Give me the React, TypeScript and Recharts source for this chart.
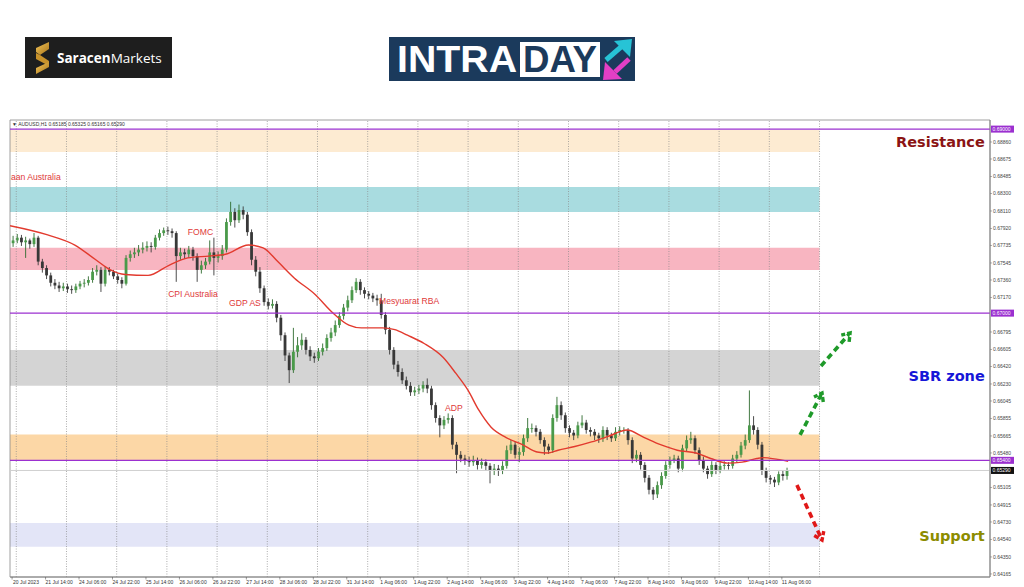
import React from 'react';
import { ComposedChart, Bar, Line, XAxis, YAxis, ReferenceArea, ReferenceLine, ReferenceDot } from 'recharts';

// ---------- DATA (2-hour candles, x = H1 bar index from 20 Jul 22:00) ----------
const opens = [
  0.6776,0.6779,0.6782,0.6777,0.6779,0.6775,0.6782,0.6756,0.6749,0.6741,
  0.6733,0.6730,0.6727,0.6729,0.6726,0.6725,0.6729,0.6732,0.6733,0.6736,
  0.6745,0.6747,0.6732,0.6747,0.6745,0.6740,0.6736,0.6732,0.6760,0.6764,
  0.6766,0.6769,0.6771,0.6773,0.6772,0.6782,0.6787,0.6790,0.6789,0.6787,
  0.6762,0.6766,0.6764,0.6769,0.6762,0.6747,0.6752,0.6756,0.6766,0.6760,
  0.6762,0.6769,0.6799,0.6810,0.6801,0.6812,0.6807,0.6788,0.6758,0.6745,
  0.6727,0.6712,0.6708,0.6710,0.6695,0.6676,0.6654,0.6638,0.6658,0.6665,
  0.6671,0.6660,0.6653,0.6651,0.6658,0.6662,0.6673,0.6679,0.6687,0.6697,
  0.6706,0.6714,0.6725,0.6734,0.6725,0.6721,0.6719,0.6716,0.6714,0.6698,
  0.6682,0.6660,0.6644,0.6636,0.6627,0.6621,0.6614,0.6616,0.6618,0.6622,
  0.6618,0.6600,0.6586,0.6578,0.6584,0.6586,0.6557,0.6546,0.6542,0.6540,
  0.6538,0.6540,0.6535,0.6538,0.6534,0.6529,0.6531,0.6529,0.6534,0.6551,
  0.6557,0.6546,0.6549,0.6564,0.6575,0.6575,0.6571,0.6562,0.6555,0.6551,
  0.6586,0.6600,0.6589,0.6575,0.6570,0.6567,0.6578,0.6581,0.6573,0.6571,
  0.6567,0.6564,0.6573,0.6567,0.6564,0.6571,0.6573,0.6573,0.6562,0.6542,
  0.6546,0.6535,0.6521,0.6508,0.6503,0.6513,0.6523,0.6535,0.6540,0.6542,
  0.6531,0.6553,0.6562,0.6564,0.6551,0.6540,0.6531,0.6525,0.6535,0.6529,
  0.6534,0.6535,0.6534,0.6542,0.6546,0.6556,0.6562,0.6578,0.6573,0.6557,
  0.6529,0.6521,0.6519,0.6516,0.6525,0.6523,
];
const closes = [
  0.6779,0.6782,0.6777,0.6779,0.6775,0.6782,0.6756,0.6749,0.6741,0.6733,
  0.6730,0.6727,0.6729,0.6726,0.6725,0.6729,0.6732,0.6733,0.6736,0.6745,
  0.6747,0.6732,0.6747,0.6745,0.6740,0.6736,0.6732,0.6760,0.6764,0.6766,
  0.6769,0.6771,0.6773,0.6772,0.6782,0.6787,0.6790,0.6789,0.6787,0.6762,
  0.6766,0.6764,0.6769,0.6762,0.6747,0.6752,0.6756,0.6766,0.6760,0.6762,
  0.6769,0.6799,0.6810,0.6801,0.6812,0.6807,0.6788,0.6758,0.6745,0.6727,
  0.6712,0.6708,0.6710,0.6695,0.6676,0.6654,0.6638,0.6658,0.6665,0.6671,
  0.6660,0.6653,0.6651,0.6658,0.6662,0.6673,0.6679,0.6687,0.6697,0.6706,
  0.6714,0.6725,0.6734,0.6725,0.6721,0.6719,0.6716,0.6714,0.6698,0.6682,
  0.6660,0.6644,0.6636,0.6627,0.6621,0.6614,0.6616,0.6618,0.6622,0.6618,
  0.6600,0.6586,0.6578,0.6584,0.6586,0.6557,0.6546,0.6542,0.6540,0.6538,
  0.6540,0.6535,0.6538,0.6534,0.6529,0.6531,0.6529,0.6534,0.6551,0.6557,
  0.6546,0.6549,0.6564,0.6575,0.6575,0.6571,0.6562,0.6555,0.6551,0.6586,
  0.6600,0.6589,0.6575,0.6570,0.6567,0.6578,0.6581,0.6573,0.6571,0.6567,
  0.6564,0.6573,0.6567,0.6564,0.6571,0.6573,0.6573,0.6562,0.6542,0.6546,
  0.6535,0.6521,0.6508,0.6503,0.6513,0.6523,0.6535,0.6540,0.6542,0.6531,
  0.6553,0.6562,0.6564,0.6551,0.6540,0.6531,0.6525,0.6535,0.6529,0.6534,
  0.6535,0.6534,0.6542,0.6546,0.6556,0.6562,0.6578,0.6573,0.6557,0.6529,
  0.6521,0.6519,0.6516,0.6525,0.6523,0.6529,
];
const highs = [
  0.6784,0.6786,0.6785,0.6783,0.6781,0.6787,0.6784,0.6759,0.6752,0.6744,
  0.6737,0.6734,0.6733,0.6732,0.6730,0.6732,0.6735,0.6737,0.6740,0.6749,
  0.6752,0.6750,0.6751,0.6750,0.6747,0.6743,0.6739,0.6763,0.6768,0.6771,
  0.6774,0.6777,0.6778,0.6777,0.6785,0.6791,0.6793,0.6794,0.6792,0.6789,
  0.6771,0.6770,0.6773,0.6772,0.6765,0.6757,0.6760,0.6779,0.6782,0.6767,
  0.6774,0.6803,0.6821,0.6814,0.6818,0.6816,0.6810,0.6791,0.6762,0.6750,
  0.6730,0.6716,0.6715,0.6713,0.6698,0.6679,0.6657,0.6684,0.6674,0.6678,
  0.6674,0.6664,0.6657,0.6662,0.6667,0.6677,0.6684,0.6692,0.6701,0.6710,
  0.6719,0.6729,0.6738,0.6737,0.6728,0.6724,0.6722,0.6720,0.6721,0.6701,
  0.6685,0.6663,0.6648,0.6640,0.6631,0.6625,0.6620,0.6622,0.6626,0.6629,
  0.6621,0.6603,0.6589,0.6588,0.6591,0.6589,0.6560,0.6550,0.6546,0.6544,
  0.6545,0.6543,0.6542,0.6541,0.6537,0.6536,0.6535,0.6539,0.6556,0.6562,
  0.6560,0.6554,0.6568,0.6586,0.6580,0.6578,0.6574,0.6565,0.6558,0.6590,
  0.6609,0.6604,0.6592,0.6578,0.6573,0.6582,0.6589,0.6584,0.6576,0.6574,
  0.6570,0.6577,0.6576,0.6570,0.6576,0.6577,0.6576,0.6575,0.6565,0.6551,
  0.6549,0.6538,0.6524,0.6511,0.6517,0.6527,0.6539,0.6544,0.6546,0.6545,
  0.6557,0.6567,0.6571,0.6567,0.6554,0.6544,0.6534,0.6539,0.6538,0.6538,
  0.6539,0.6538,0.6546,0.6550,0.6560,0.6568,0.6616,0.6588,0.6576,0.6560,
  0.6532,0.6524,0.6522,0.6528,0.6529,0.6532,
];
const lows = [
  0.6772,0.6776,0.6773,0.6760,0.6770,0.6772,0.6752,0.6744,0.6737,0.6729,
  0.6726,0.6723,0.6724,0.6722,0.6721,0.6722,0.6726,0.6728,0.6730,0.6733,
  0.6741,0.6723,0.6729,0.6741,0.6737,0.6732,0.6727,0.6730,0.6756,0.6760,
  0.6762,0.6765,0.6767,0.6766,0.6769,0.6779,0.6784,0.6785,0.6782,0.6734,
  0.6758,0.6759,0.6760,0.6757,0.6734,0.6743,0.6748,0.6753,0.6741,0.6755,
  0.6758,0.6766,0.6795,0.6793,0.6798,0.6802,0.6784,0.6752,0.6740,0.6722,
  0.6708,0.6704,0.6705,0.6690,0.6670,0.6648,0.6624,0.6635,0.6652,0.6660,
  0.6655,0.6648,0.6646,0.6648,0.6654,0.6659,0.6669,0.6675,0.6684,0.6693,
  0.6702,0.6711,0.6722,0.6720,0.6716,0.6715,0.6712,0.6708,0.6694,0.6677,
  0.6655,0.6639,0.6631,0.6623,0.6617,0.6610,0.6610,0.6612,0.6614,0.6613,
  0.6595,0.6581,0.6565,0.6574,0.6580,0.6552,0.6526,0.6538,0.6535,0.6533,
  0.6534,0.6530,0.6531,0.6529,0.6515,0.6524,0.6523,0.6525,0.6531,0.6547,
  0.6542,0.6538,0.6545,0.6560,0.6570,0.6566,0.6558,0.6546,0.6547,0.6548,
  0.6582,0.6584,0.6570,0.6565,0.6562,0.6564,0.6575,0.6569,0.6566,0.6562,
  0.6559,0.6560,0.6562,0.6560,0.6561,0.6567,0.6569,0.6557,0.6537,0.6538,
  0.6530,0.6516,0.6503,0.6497,0.6499,0.6509,0.6520,0.6531,0.6537,0.6527,
  0.6528,0.6549,0.6558,0.6547,0.6535,0.6527,0.6520,0.6522,0.6525,0.6526,
  0.6530,0.6530,0.6531,0.6538,0.6543,0.6552,0.6559,0.6568,0.6552,0.6524,
  0.6516,0.6514,0.6511,0.6513,0.6518,0.6519,
];

// moving average (red line)
const maHours = [-1,17,30,40,47,54,65,75,84,94,102,113,120,127,135,145,153,161,167,177,183,189,197,206,212,218,223,229,236,244,251,256,261,269,277,285,294,302,310,318,327,334,342,349,356,359,366,371];
const maValues = [0.6795,0.6785,0.6774,0.6758,0.6747,0.6742,0.6741,0.6752,0.6760,0.6762,0.6764,0.6774,0.6771,0.6756,0.6738,0.6720,0.6701,0.6687,0.6684,0.6684,0.6682,0.6676,0.6667,0.6652,0.6635,0.6616,0.6595,0.6576,0.6565,0.6557,0.6549,0.6548,0.6551,0.6555,0.6560,0.6566,0.6573,0.6565,0.6557,0.6551,0.6548,0.6542,0.6537,0.6538,0.6542,0.6543,0.6541,0.6539];

// axes
const xTickHours = [0,16,32,48,64,80,96,112,128,144,160,176,192,208,224,240,256,272,288,304,320,336,352,368];
const xTickLabels = ['20 Jul 2023','21 Jul 14:00','24 Jul 06:00','24 Jul 22:00','25 Jul 14:00','26 Jul 06:00','26 Jul 22:00','27 Jul 14:00','28 Jul 06:00','28 Jul 22:00','31 Jul 14:00','1 Aug 06:00','1 Aug 22:00','2 Aug 14:00','3 Aug 06:00','3 Aug 22:00','4 Aug 14:00','7 Aug 06:00','7 Aug 22:00','8 Aug 14:00','9 Aug 06:00','9 Aug 22:00','10 Aug 14:00','11 Aug 06:00'];
const dayStartHours = [2,26,50,74,98,122,146,170,194,218,242,266,290,314,338,362,386];
const yTicks = [0.68860,0.68675,0.68485,0.68300,0.68110,0.67920,0.67735,0.67545,0.67360,0.67170,0.66795,0.66605,0.66420,0.66230,0.66045,0.65855,0.65665,0.65480,0.65105,0.64915,0.64730,0.64540,0.64350,0.64165];
const xDomain = [-1, 467.5];
const yDomain = [0.64132, 0.69099];

// zones & levels
const zoneLow = [0.6875, 0.6810, 0.6747, 0.6621, 0.6540, 0.6446];
const zoneHigh = [0.6899, 0.6837, 0.6771, 0.6660, 0.6568, 0.6472];
const zoneEndHour = 386;
const levelLines = [0.69, 0.67, 0.654];
const currentPrice = 0.6529;

// annotations
const headerText = '\u25BC AUDUSD,H1  0.65185 0.65325 0.65165 0.65290';
const eventLabels = ['aan Australia', 'FOMC', 'CPI Australia', 'GDP AS', 'Mesyuarat RBA', 'ADP'];
const eventHours = [-0.5, 84, 74.6, 103.7, 175.4, 207];
const eventPrices = [0.6845, 0.6785, 0.6717, 0.6708, 0.6710, 0.6594];
const zoneTitles = ['Resistance', 'SBR zone', 'Support'];
const zoneTitleHour = 465;
const zoneTitlePrices = [0.6881, 0.6626, 0.6452];
const arrowStart = [[376.7, 0.65676], [386.7, 0.66425], [375.2, 0.65132]];
const arrowEnd = [[387.2, 0.66132], [400.6, 0.66784], [387.2, 0.64534]];

// ---------- STYLES ----------
const zoneColors = ['#fdebd2', '#a9dce0', '#f8b5c1', '#d4d4d4', '#fcd7a6', '#e3e5f7'];
const titleColors = ['#8b1414', '#1616d8', '#8c8c00'];
const arrowColors = ['#1f9a2a', '#1f9a2a', '#e01818'];
const FONT = '"Liberation Sans", Arial, sans-serif';

const bars = closes.map((c, k) => ({
  hour: 2 * k + 0.5,
  open: opens[k],
  high: highs[k],
  low: lows[k],
  close: c,
  range: [lows[k], highs[k]],
}));
const maData = maHours.map((h, i) => ({ hour: h, ma: maValues[i] }));

const Candle = (props: any) => {
  const { x, y, width, height, payload } = props;
  if (!payload || height === undefined) return null;
  const { open, close, high, low } = payload;
  const top = Math.min(y, y + height);
  const h = Math.abs(height);
  const k = h / (high - low);
  const cx = x + width / 2;
  const bTop = top + (high - Math.max(open, close)) * k;
  const bBot = top + (high - Math.min(open, close)) * k;
  const up = close >= open;
  return (
    <g>
      <line x1={cx} x2={cx} y1={top} y2={top + h} stroke={up ? '#2e6b2e' : '#3a3a3a'} strokeWidth={0.9} />
      <rect x={cx - 1.4} y={bTop} width={2.8} height={Math.max(bBot - bTop, 0.9)} fill={up ? '#4a9a4a' : '#383838'} />
    </g>
  );
};

const XTick = (props: any) => {
  const { x, y, payload } = props;
  const idx = xTickHours.indexOf(payload.value);
  return (
    <g>
      <line x1={x} x2={x} y1={577} y2={579.5} stroke="#555" strokeWidth={0.6} />
      <text x={x + (idx === 0 ? 1 : 0)} y={584} fontSize={5} fill="#333" textAnchor="start" fontFamily={FONT}>
        {idx >= 0 ? xTickLabels[idx] : ''}
      </text>
    </g>
  );
};

const levelShape = (line: string, bg: string, label: string, w: number) => (p: any) => {
  const right = Math.max(p.x1, p.x2);
  return (
    <g>
      <line x1={p.x1} y1={p.y1} x2={p.x2} y2={p.y2} stroke={line} strokeWidth={w} />
      <rect x={right + 1} y={p.y1 - 3.5} width={23} height={7} fill={bg} />
      <text x={right + 2.5} y={p.y1 + 1.9} fontSize={5} fill="#fff" fontFamily={FONT}>{label}</text>
    </g>
  );
};

const arrowShape = (color: string) => (p: any) => {
  const { x1, y1, x2, y2 } = p;
  const ang = Math.atan2(y2 - y1, x2 - x1);
  const L = 9;
  const s = 0.62;
  const ax = x2 - L * Math.cos(ang - s);
  const ay = y2 - L * Math.sin(ang - s);
  const bx = x2 - L * Math.cos(ang + s);
  const by = y2 - L * Math.sin(ang + s);
  return (
    <g>
      <line x1={x1} y1={y1} x2={x2 - 2 * Math.cos(ang)} y2={y2 - 2 * Math.sin(ang)} stroke={color} strokeWidth={3.6} strokeDasharray="6 4" />
      <polyline points={`${ax},${ay} ${x2},${y2} ${bx},${by}`} fill="none" stroke={color} strokeWidth={3.4} strokeDasharray="5 2" />
    </g>
  );
};

const textShape = (label: string, color: string, size: number, anchor: string, weight: number | string, family: string) => (p: any) => (
  <text x={p.cx} y={p.cy} fill={color} fontSize={size} textAnchor={anchor as any} fontWeight={weight} fontFamily={family}>
    {label}
  </text>
);

const SaracenLogo = () => (
  <svg style={{ position: 'absolute', left: 25, top: 37 }} width={147} height={41}>
    <defs>
      <linearGradient id="goldg" x1="0" y1="0" x2="1" y2="1">
        <stop offset="0" stopColor="#f4c659" />
        <stop offset="1" stopColor="#a8741a" />
      </linearGradient>
    </defs>
    <rect width={147} height={41} fill="#1e1e1e" />
    <polygon points="24,5 24,12 15,18 11,15 11,11" fill="url(#goldg)" />
    <polygon points="11,16 15,18 24,24 24,29 11,22" fill="#c8922b" />
    <polygon points="24,25 24,30 11,37 11,31" fill="url(#goldg)" />
    <text x={32} y={26} fontSize={13.5} fill="#fff" fontFamily='"Open Sans", sans-serif'>
      <tspan fontWeight={700}>Saracen</tspan>
      <tspan fontWeight={400}>Markets</tspan>
    </text>
  </svg>
);

const IntradayLogo = () => (
  <svg style={{ position: 'absolute', left: 389, top: 37 }} width={246} height={44}>
    <rect width={246} height={44} fill="#1b3a5c" />
    <text x={8} y={34.5} fontSize={37} fontWeight={700} fill="#fff" fontFamily={FONT} textLength={120} lengthAdjust="spacingAndGlyphs">INTRA</text>
    <rect x={131} y={5} width={80} height={35} fill="#fff" />
    <text x={134} y={34.5} fontSize={37} fontWeight={700} fill="#1b3a5c" fontFamily={FONT} textLength={74} lengthAdjust="spacingAndGlyphs">DAY</text>
    <line x1={217} y1={23} x2={232} y2={10} stroke="#27c3d6" strokeWidth={5} />
    <polygon points="225,4 243,2 241,20" fill="#27c3d6" />
    <line x1={240} y1={22} x2={226} y2={35} stroke="#e23fc6" strokeWidth={5} />
    <polygon points="233,42 214,43 216,25" fill="#e23fc6" />
  </svg>
);

export default function App() {
  return (
    <div style={{ position: 'absolute', left: 0, top: 0, width: 1024, height: 587, background: '#fff', fontFamily: FONT, overflow: 'hidden' }}>
      <SaracenLogo />
      <IntradayLogo />
      <div style={{ position: 'absolute', left: 0, top: 0 }}>
        <ComposedChart width={1024} height={587} data={bars} margin={{ top: 120, right: 0, left: 10, bottom: 0 }}>
          <XAxis
            dataKey="hour"
            type="number"
            domain={xDomain}
            allowDataOverflow
            ticks={xTickHours}
            interval={0}
            tick={<XTick />}
            tickLine={false}
            axisLine={{ stroke: '#888' }}
            height={10}
            tickSize={0}
          />
          <YAxis
            orientation="right"
            type="number"
            domain={yDomain}
            allowDataOverflow
            ticks={yTicks}
            interval={0}
            width={34}
            tickSize={2}
            tickMargin={1}
            tickLine={{ stroke: '#777', strokeWidth: 0.6 }}
            axisLine={{ stroke: '#888' }}
            tick={{ fontSize: 5, fill: '#444', fontFamily: FONT }}
            tickFormatter={(v: number) => v.toFixed(5)}
          />
          {zoneLow.map((lo, i) => (
            <ReferenceArea key={'z' + i} x1={xDomain[0]} x2={zoneEndHour} y1={lo} y2={zoneHigh[i]} fill={zoneColors[i]} fillOpacity={1} stroke="none" />
          ))}
          {dayStartHours.map((h) => (
            <ReferenceLine key={'g' + h} x={h} stroke="#8a8a8a" strokeWidth={0.7} strokeDasharray="1 1.5" />
          ))}
          <ReferenceLine
            y={currentPrice}
            shape={levelShape('#cfcfcf', '#111', currentPrice.toFixed(5), 1)}
          />
          <Bar dataKey="range" barSize={3} shape={<Candle />} isAnimationActive={false} />
          <Line data={maData} dataKey="ma" type="monotone" stroke="#e23a2e" strokeWidth={1.4} dot={false} isAnimationActive={false} />
          {levelLines.map((v) => (
            <ReferenceLine key={'l' + v} y={v} shape={levelShape('#9b30d0', '#9b30d0', v.toFixed(5), 1.4)} />
          ))}
          <ReferenceArea x1={xDomain[0]} x2={xDomain[1]} y1={yDomain[0]} y2={yDomain[1]} fill="none" stroke="#888" strokeWidth={0.8} />
          <ReferenceDot x={0} y={0.69037} r={0} shape={textShape(headerText, '#333', 5, 'start', 400, FONT)} />
          {eventLabels.map((t, i) => (
            <ReferenceDot key={'e' + i} x={eventHours[i]} y={eventPrices[i]} r={0} shape={textShape(t, '#e03a3a', 8.6, 'start', 400, FONT)} />
          ))}
          {zoneTitles.map((t, i) => (
            <ReferenceDot key={'t' + i} x={zoneTitleHour} y={zoneTitlePrices[i]} r={0} shape={textShape(t, titleColors[i], 14.5, 'end', 900, '"DejaVu Sans", sans-serif')} />
          ))}
          {arrowStart.map((s, i) => (
            <ReferenceLine
              key={'a' + i}
              segment={[{ x: s[0], y: s[1] }, { x: arrowEnd[i][0], y: arrowEnd[i][1] }]}
              shape={arrowShape(arrowColors[i])}
            />
          ))}
        </ComposedChart>
      </div>
    </div>
  );
}
